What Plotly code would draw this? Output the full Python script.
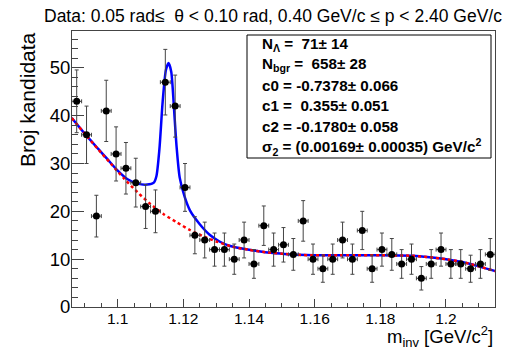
import numpy as np
import plotly.graph_objects as go

# ---- data ----
bin_centers = [1.0875, 1.0905, 1.0935, 1.0965, 1.0995, 1.1025, 1.1055, 1.1085, 1.1115, 1.1145,
               1.1175, 1.1205, 1.1235, 1.1265, 1.1295, 1.1325, 1.1355, 1.1385, 1.1415, 1.1445,
               1.1475, 1.1505, 1.1535, 1.1565, 1.1595, 1.1625, 1.1655, 1.1685, 1.1715, 1.1745,
               1.1775, 1.1805, 1.1835, 1.1865, 1.1895, 1.1925, 1.1955, 1.1985, 1.2015, 1.2045,
               1.2075, 1.2105, 1.2135]
counts = [43, 36, 19, 41, 32, 29, 26, 21, 20, 47, 42, 25, 15, 14, 12, 12, 10, 14, 9, 17,
          12, 13, 11, 18, 10, 8, 10, 14, 10, 16, 8, 12, 11, 9, 10, 6, 9, 12, 9, 9, 8, 9, 11]
half_bin = 0.0015

# fitted background (red dotted)
bg_m = [1.086, 1.090, 1.094, 1.098, 1.102, 1.106, 1.110, 1.114, 1.118, 1.122, 1.126, 1.130,
        1.135, 1.140, 1.145, 1.150, 1.155, 1.160, 1.170, 1.180, 1.190, 1.195, 1.200, 1.205,
        1.210, 1.215]
bg_v = [39.5, 36.2, 33.0, 29.9, 26.8, 24.0, 21.5, 19.4, 17.7, 16.1, 14.8, 13.7,
        12.6, 11.95, 11.45, 11.15, 10.9, 10.8, 10.8, 10.8, 10.7, 10.4, 10.0, 9.4,
        8.5, 7.5]

# total fit (blue)
tot_m = [1.086, 1.090, 1.094, 1.097, 1.100, 1.103, 1.106, 1.109, 1.1110, 1.1118, 1.1127,
         1.1137, 1.1147, 1.1155, 1.1163, 1.1171, 1.1179, 1.1189, 1.1204, 1.122, 1.125,
         1.128, 1.131, 1.134, 1.140, 1.145, 1.150, 1.155, 1.160, 1.170, 1.180, 1.190,
         1.195, 1.200, 1.205, 1.210, 1.215]
tot_v = [39.5, 36.2, 33.1, 30.8, 28.5, 26.7, 25.8, 25.6, 26.0, 27.4, 33.0,
         43.0, 49.6, 51.0, 49.2, 42.0, 33.8, 27.0, 23.0, 20.2, 17.3,
         15.1, 13.7, 12.8, 11.95, 11.45, 11.15, 10.9, 10.8, 10.8, 10.8, 10.7,
         10.4, 10.0, 9.4, 8.5, 7.5]

x_tickvals = [1.1, 1.12, 1.14, 1.16, 1.18, 1.2]
x_ticktext = ["1.1", "1.12", "1.14", "1.16", "1.18", "1.2"]
y_tickvals = [0, 10, 20, 30, 40, 50]
y_ticktext = ["0", "10", "20", "30", "40", "50"]

title_text = "Data: 0.05 rad\u2264  \u03b8 < 0.10 rad, 0.40 GeV/c \u2264 p < 2.40 GeV/c"
stats_lines = [
    "N<sub>\u039b</sub> =\u00a0 71\u00b1 14",
    "N<sub>bgr</sub> =\u00a0 658\u00b1 28",
    "c0 = -0.7378\u00b1 0.066",
    "c1 =\u00a0 0.355\u00b1 0.051",
    "c2 = -0.1780\u00b1 0.058",
    "\u03c3<sub>2</sub> = (0.00169\u00b1 0.00035) GeV/c<sup>2</sup>",
]

FONT = "Liberation Sans, Arial, sans-serif"

fig = go.Figure()
fig.add_trace(go.Scatter(x=tot_m, y=tot_v, mode="lines",
                         line=dict(color="#0000ff", width=2.5, shape="spline", smoothing=0.7),
                         hoverinfo="skip"))
fig.add_trace(go.Scatter(x=bg_m, y=bg_v, mode="lines",
                         line=dict(color="#ff0000", width=2.5, dash="dot", shape="spline", smoothing=0.7),
                         hoverinfo="skip"))
errs = [float(np.sqrt(c)) for c in counts]
fig.add_trace(go.Scatter(x=bin_centers, y=counts, mode="markers",
                         marker=dict(color="black", size=7),
                         error_y=dict(type="data", array=errs, color="#444", thickness=1, width=2),
                         error_x=dict(type="constant", value=half_bin, color="#444", thickness=1, width=2)))

# geometry helpers (paper coords)
L, R, T, B = 72, 16, 31, 43
W, H = 511, 350
pw, ph = W - L - R, H - T - B
def px(xp): return (xp - L) / pw
def py(yp): return (H - B - yp) / ph

ann = []
ann.append(dict(text=title_text, x=px(273), y=py(15.5), xref="paper", yref="paper",
                xanchor="center", yanchor="middle", showarrow=False,
                font=dict(family=FONT, size=17.5, color="black")))
ann.append(dict(text="Broj kandidata", x=px(27), y=py(100), xref="paper", yref="paper",
                xanchor="center", yanchor="middle", textangle=-90, showarrow=False,
                font=dict(family=FONT, size=21, color="black")))
ann.append(dict(text="m<sub>inv</sub> [GeV/c<sup>2</sup>]", x=px(495), y=py(336), xref="paper", yref="paper",
                xanchor="right", yanchor="middle", showarrow=False,
                font=dict(family=FONT, size=18.5, color="black")))
line_y = [44, 64.6, 85.2, 105.8, 126.4, 147]
for txt, yy in zip(stats_lines, line_y):
    ann.append(dict(text="<b>" + txt + "</b>", x=px(260), y=py(yy), xref="paper", yref="paper",
                    xanchor="left", yanchor="middle", showarrow=False,
                    font=dict(family=FONT, size=15.2, color="black")))

fig.update_layout(
    width=W, height=H, autosize=False,
    margin=dict(l=L, r=R, t=T, b=B, pad=0),
    paper_bgcolor="white", plot_bgcolor="white",
    showlegend=False,
    annotations=ann,
    shapes=[dict(type="rect", xref="paper", yref="paper", x0=px(247), x1=px(491),
                 y0=py(158), y1=py(35), line=dict(color="black", width=1), fillcolor="white",
                 layer="above")],
)
fig.update_xaxes(range=[1.08607, 1.21494], tickvals=x_tickvals, ticktext=x_ticktext,
                 ticks="inside", ticklen=8, tickcolor="#444", tickwidth=1,
                 minor=dict(dtick=0.005, tick0=1.1, ticks="inside", ticklen=4, tickcolor="#444"),
                 showline=True, linecolor="#444", linewidth=1, mirror=True,
                 showgrid=False, zeroline=False, ticklabelstandoff=-3,
                 tickfont=dict(family=FONT, size=15.5, color="black"))
fig.update_yaxes(range=[0, 57.7], tickvals=y_tickvals, ticktext=y_ticktext,
                 ticks="inside", ticklen=12, tickcolor="#444", tickwidth=1,
                 minor=dict(dtick=2, tick0=0, ticks="inside", ticklen=6, tickcolor="#444"),
                 showline=True, linecolor="#444", linewidth=1, mirror=True,
                 showgrid=False, zeroline=False, ticklabelstandoff=-3,
                 tickfont=dict(family=FONT, size=18.5, color="black"))

fig.write_html("out.html", config={"displayModeBar": False},
               post_script="document.body.style.margin='0';document.body.style.overflow='hidden';")
